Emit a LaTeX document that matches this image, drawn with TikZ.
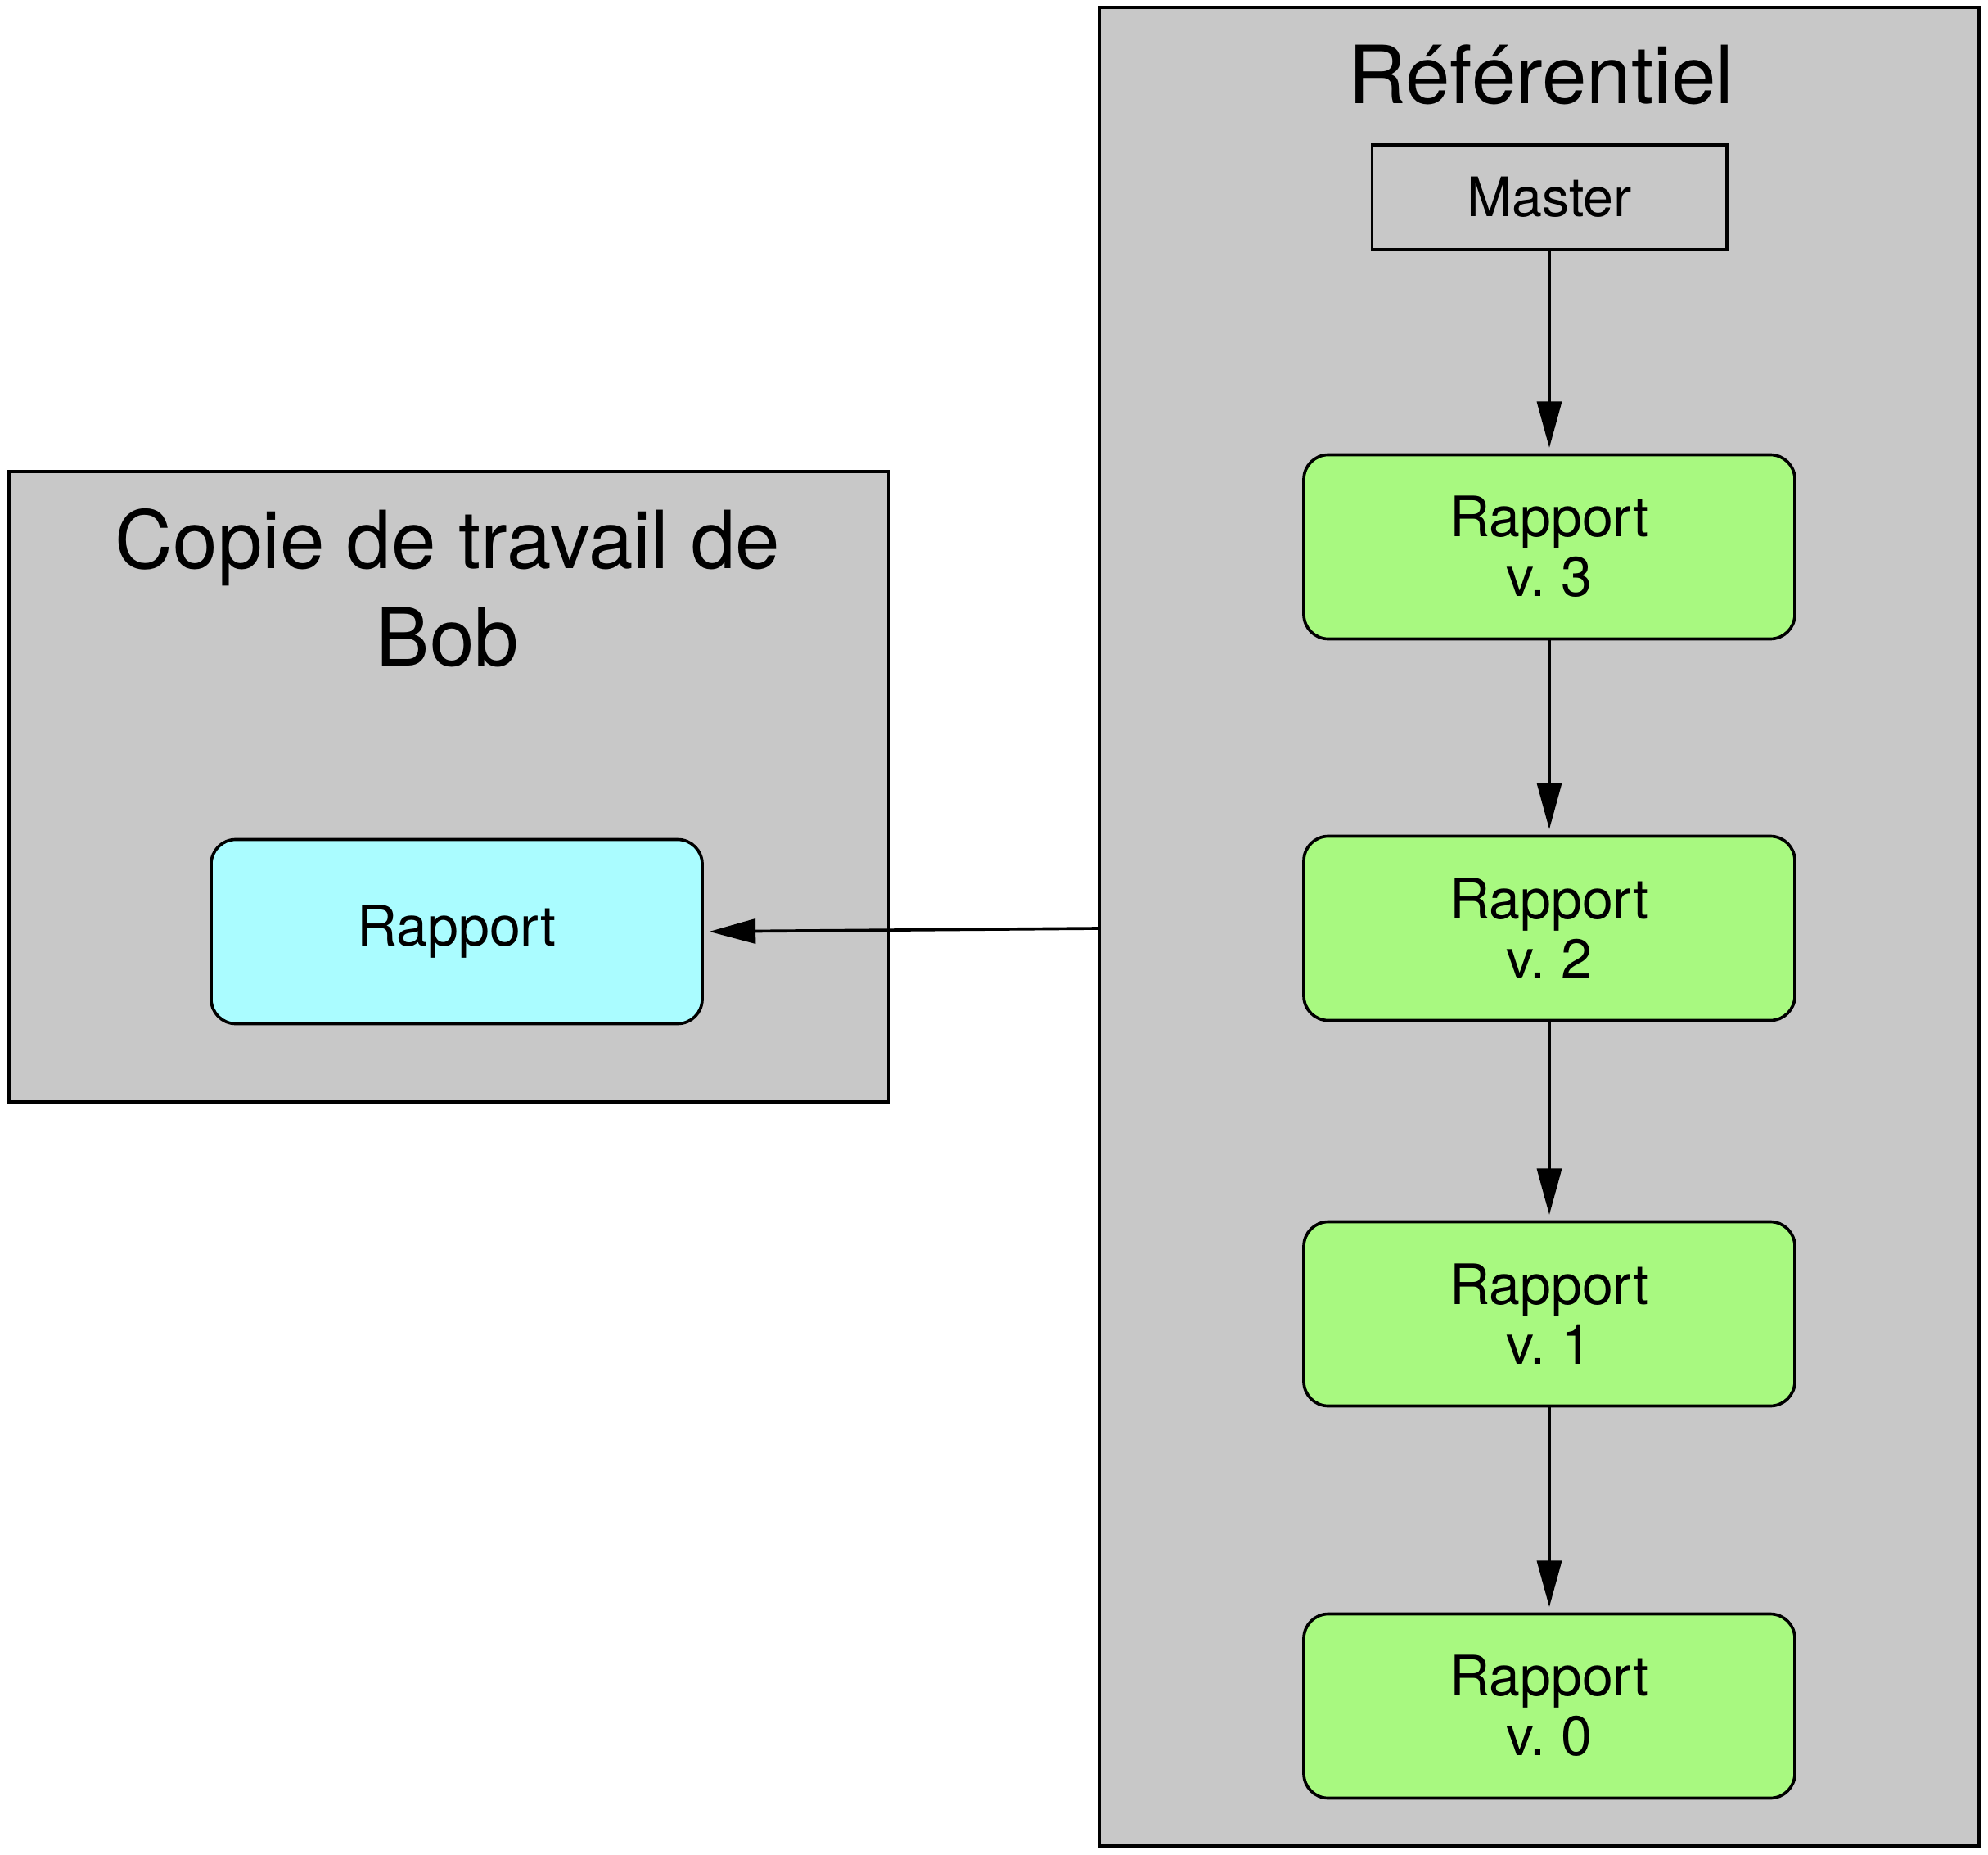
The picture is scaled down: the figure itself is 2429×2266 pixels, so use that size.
\documentclass[tikz,border=0pt]{standalone}
\usepackage{fontspec}
\setmainfont{TeX Gyre Heros}
\frenchspacing
\usetikzlibrary{arrows.meta}
\definecolor{areagray}{RGB}{200,200,200}
\definecolor{repogreen}{RGB}{168,249,128}
\definecolor{copycyan}{RGB}{170,252,255}
\tikzstyle{area}=[draw, fill=areagray, line width=1.1bp]
\tikzstyle{title}=[font=\fontsize{29.5}{35.7}\selectfont, align=center, anchor=base, inner sep=0pt]
\tikzstyle{version}=[draw, fill=repogreen, rounded corners=9bp, line width=1.1bp, minimum width=180bp, minimum height=67.5bp, align=center, inner sep=0pt, font=\fontsize{20.5}{22}\selectfont]
\tikzstyle{link}=[-{Triangle[length=17bp,width=9bp]}, line width=1.1bp, shorten >=2bp]

\begin{document}
\begin{tikzpicture}[x=0.3bp, y=-0.3bp]
    \useasboundingbox (0,0) rectangle (2429,2266);
% Areas
    \draw[area] (1343,9) rectangle (2418,2255);
    \draw[area] (11,576) rectangle (1086,1346);
    \node[title] (reftitle) at (1883,127) {Référentiel};
    \node[title] (bobtitle) at (547,813) {Copie de travail de\\Bob};
% Repository
    \node[draw, line width=1.1bp, minimum width=130bp, minimum height=38.4bp, font=\fontsize{20}{22}\selectfont] (master) at (1893,241) {Master};
    \node[version] (v3) at (1893,668) {Rapport\\v. 3};
    \node[version] (v2) at (1893,1134) {Rapport\\v. 2};
    \node[version] (v1) at (1893,1605) {Rapport\\v. 1};
    \node[version] (v0) at (1893,2084) {Rapport\\v. 0};
% Working copy
    \node[version, fill=copycyan] (bobrap) at (558,1138) {Rapport};
% History
    \draw[link] (master) -- (v3);
    \draw[link] (v3) -- (v2);
    \draw[link] (v2) -- (v1);
    \draw[link] (v1) -- (v0);
% Checkout
    \coordinate (refedge) at (1343,1134);
    \draw[link] (refedge) -- (bobrap.east);
\end{tikzpicture}
\end{document}
